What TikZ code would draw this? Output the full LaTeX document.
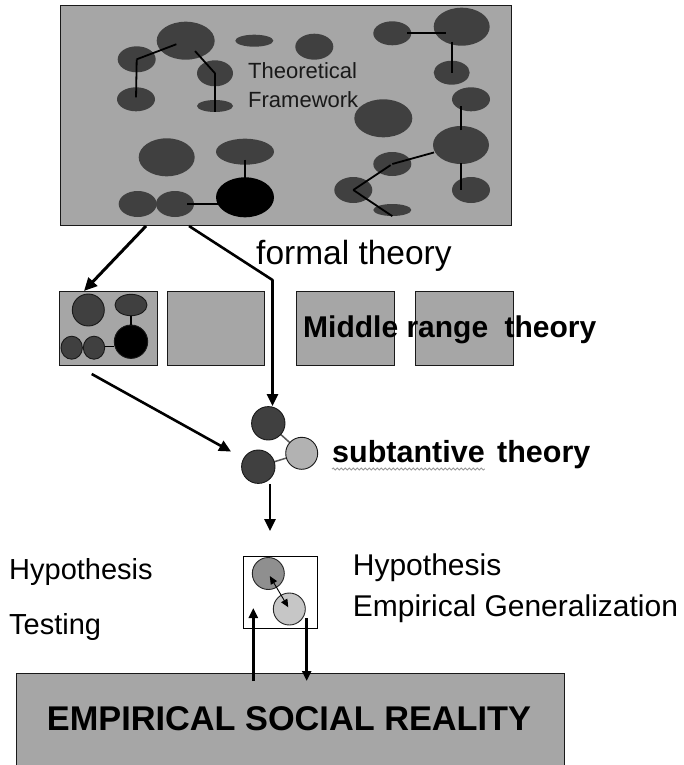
\documentclass[tikz,border=0pt]{standalone}
\usepackage{fontspec}
\setmainfont{Liberation Sans}
\usetikzlibrary{shapes.geometric,arrows.meta,decorations.pathmorphing}

\definecolor{boxgray}{HTML}{A6A6A6}
\definecolor{blobgray}{HTML}{404040}
\definecolor{lightball}{HTML}{B2B2B2}
\definecolor{midball}{HTML}{8F8F8F}
\definecolor{paleball}{HTML}{C6C6C6}

\tikzset{
  panel/.style={draw=black!90, line width=1.3pt, fill=boxgray, inner sep=0pt, anchor=north west},
  blob/.style 2 args={ellipse, fill=blobgray, inner sep=0pt, minimum width=2*#1, minimum height=2*#2},
  ringblob/.style 2 args={ellipse, draw=black!90, line width=0.9pt, fill=blobgray, inner sep=0pt, minimum width=2*#1, minimum height=2*#2},
  link/.style={line width=1.8pt, black},
  bigarrow/.style={line width=3pt, -{Triangle[length=13pt,width=12pt]}},
  midarrow/.style={line width=2.6pt, -{Triangle[length=12pt,width=11pt]}},
  smallarrow/.style={line width=2.6pt, -{Triangle[length=10pt,width=9pt]}},
  label/.style={inner sep=0pt, anchor=base west},
}

\begin{document}
\begin{tikzpicture}[x=1pt,y=-1pt]
\useasboundingbox (0,0) rectangle (684,765);
\fill[white] (0,0) rectangle (684,765);

% ---------- theoretical framework ----------
\node[panel, minimum width=451pt, minimum height=220pt] (top) at (60,5) {};

\node[blob={29}{19}] (e1) at (185.7,40.7) {};
\node[blob={19}{13}] (e2) at (136.7,59.3) {};
\node[blob={19}{12}] (e3) at (136,99.3) {};
\node[blob={18}{13}] (e4) at (215,73.3) {};
\node[blob={18}{6}]  (e5) at (215,106) {};
\node[blob={19}{6}]  (e6) at (254.3,40.7) {};
\node[blob={19}{13}] (e7) at (314.3,46.7) {};
\node[blob={19}{12}] (e8) at (392.3,33.3) {};
\node[blob={28}{19}] (e9) at (461.7,26.7) {};
\node[blob={18}{12}] (e10) at (451.7,72.7) {};
\node[blob={19}{12}] (e11) at (471,99.3) {};
\node[blob={29}{19}] (e12) at (383.3,118.3) {};
\node[blob={28}{19}] (e13) at (461,145) {};
\node[blob={19}{12}] (e14) at (392.3,164) {};
\node[blob={19}{13}] (e15) at (353.3,190) {};
\node[blob={19}{6}]  (e16) at (392.3,210) {};
\node[blob={19}{13}] (e17) at (471,190) {};
\node[blob={28}{19}] (e18) at (166.7,157.3) {};
\node[blob={29}{13}] (e19) at (245,151.7) {};
\node[blob={29}{20}, fill=black] (e20) at (245,197.3) {};
\node[blob={19}{13}] (e21) at (137.7,204) {};
\node[blob={19}{13}] (e22) at (175,204) {};

\draw[link, shorten >=10pt] (e2.center) -- (e1.center);
\draw[link, shorten >=2pt] (e2.center) -- (e3.center);
\draw[link, shorten <=14pt] (e1.center) -- (e4.center);
\draw[link] (e4.center) -- (e5.south);
\draw[link, shorten <=15pt, shorten >=16pt] (e8.center) -- (e8.center -| e9.center);
\draw[link, shorten <=15pt] (e10.center |- e9.center) -- (e10.center);
\draw[link, shorten <=15pt, shorten >=7pt] (e13.center) -- (e13.center |- e11.center);
\draw[link, shorten <=28pt] (e13.center) -- (e14.center);
\draw[link, shorten <=2pt] (e14.center) -- (e15.center);
\draw[link] (e15.center) -- (e16.south);
\draw[link, shorten <=18pt] (e13.center) -- (e13.center |- e17.center);
\draw[link, shorten <=8pt] (e19.center) -- (e20.center);
\draw[link, shorten <=12pt] (e22.center) -- (e22.center -| e20.center);

\node[label, font=\fontsize{22}{26}\selectfont, text=black!90] (tf1) at (248,78.3) {Theoretical};
\node[label, font=\fontsize{22}{26}\selectfont, text=black!90] (tf2) at (248,107.3) {Framework};

% ---------- middle range row ----------
\node[panel, minimum width=98pt, minimum height=74pt] (m1) at (59,291) {};
\node[panel, minimum width=97pt, minimum height=74pt] (m2) at (167,291) {};
\node[panel, minimum width=98pt, minimum height=74pt] (m3) at (296,291) {};
\node[panel, minimum width=98pt, minimum height=74pt] (m4) at (415,291) {};

\node[ringblob={16}{16}] (b1) at (88.3,310) {};
\node[ringblob={16}{10.7}] (b2) at (131,305) {};
\node[ringblob={16.7}{16.7}, fill=black] (b3) at (131,341.7) {};
\node[ringblob={10.7}{11.5}] (b4) at (71.7,347.7) {};
\node[ringblob={10.7}{11.5}] (b5) at (94,347.7) {};
\draw[link, line width=1.3pt] (b2.south) -- (b3.north);
\draw[link, line width=1.3pt] (b5.east |- 0,346.7) -- (b3.west |- 0,346.7);

\node[label, font=\bfseries\fontsize{30}{36}\selectfont] (mrt) at (303,337) {Middle range\hspace{8pt} theory};

% ---------- substantive cluster ----------
\coordinate (s1c) at (268.3,423.3);
\coordinate (s2c) at (258.3,466.7);
\coordinate (s3c) at (301.7,453.3);
\draw[line width=1.5pt, black!65] (s1c) -- (s3c) -- (s2c);
\node[ringblob={16.7}{16.7}] (s1) at (s1c) {};
\node[ringblob={16.7}{16.7}] (s2) at (s2c) {};
\node[ringblob={16}{16}, fill=lightball] (s3) at (s3c) {};

\node[label, font=\bfseries\fontsize{30.5}{36}\selectfont] (st1) at (332,462) {subtantive};
\node[label, font=\bfseries\fontsize{30.5}{36}\selectfont] (st2) at (497,462) {theory};
\draw[decorate, decoration={snake, amplitude=1.1pt, segment length=4pt}, black!40, line width=0.8pt]
  ([yshift=-7pt]st1.base west) -- ([yshift=-7pt]st1.base east);

% ---------- arrows between levels ----------
\coordinate (a1s) at (146,226);
\coordinate (a1e) at (84,291);
\draw[bigarrow] (a1s) -- (a1e);

\coordinate (a2s) at (189,226);
\coordinate (a2k) at (272.5,280);
\draw[midarrow, line join=round] (a2s) -- (a2k) -- (a2k |- s1.north);

\coordinate (a3s) at (91.7,374);
\draw[midarrow, shorten >=14pt] (a3s) -- (s2);

\node[label, font=\fontsize{33.5}{40}\selectfont] (ft) at (256,264) {formal theory};

\coordinate (a4e) at (270,531);
\draw[midarrow] (s2.south -| a4e) -- (a4e);

% ---------- hypothesis ----------
\node[draw=black, line width=1.1pt, fill=white, inner sep=0pt, anchor=north west,
      minimum width=74pt, minimum height=72pt] (hyp) at (243,556) {};
\node[ringblob={16}{16}, fill=midball, draw=black!85] (c1) at (268.3,573.5) {};
\node[ringblob={16}{16}, fill=paleball, draw=black!85] (c2) at (289.3,609) {};
\draw[{Triangle[length=8pt,width=7pt]}-{Triangle[length=8pt,width=7pt]}, line width=0.9pt,
      shorten <=3pt, shorten >=2pt] (c1.center) -- (c2.center);

\node[label, font=\fontsize{29}{35}\selectfont] (ht1) at (9,579.5) {Hypothesis};
\node[label, font=\fontsize{29}{35}\selectfont] (ht2) at (9,634) {Testing};
\node[label, font=\fontsize{30}{36}\selectfont] (hg1) at (352.7,575) {Hypothesis};
\node[label, font=\fontsize{30}{36}\selectfont] (hg2) at (352.7,616.5) {Empirical Generalization};

% ---------- empirical social reality ----------
\node[panel, minimum width=548pt, minimum height=100pt] (esr) at (16,673) {};
\node[inner sep=0pt, anchor=base, font=\bfseries\fontsize{34.3}{40}\selectfont] (esrt) at (289,730) {EMPIRICAL SOCIAL REALITY};

\coordinate (upS) at (253.3,681);
\coordinate (upE) at (253.3,608);
\draw[smallarrow] (upS) -- (upE);
\coordinate (dnS) at (306.7,618);
\coordinate (dnE) at (306.7,681);
\draw[smallarrow] (dnS) -- (dnE);
\end{tikzpicture}
\end{document}
